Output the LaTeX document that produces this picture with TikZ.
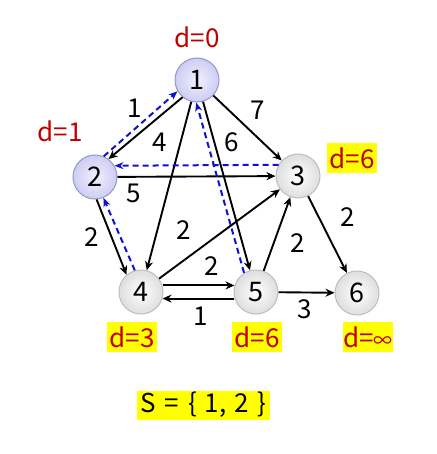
\documentclass[tikz,border=0pt]{standalone}
\usepackage{fontspec}
\setmainfont{Noto Sans CJK KR}
\usetikzlibrary{arrows.meta}
\definecolor{dred}{HTML}{C00000}
\definecolor{hl}{HTML}{FFFF00}
\definecolor{dblue}{HTML}{1010D0}
\tikzset{
  vert/.style={circle, minimum size=44pt, inner sep=0pt, font=\fontsize{27}{27}\selectfont},
  done/.style={vert, shading=radial, inner color={rgb,255:red,240;green,240;blue,255}, outer color={rgb,255:red,205;green,205;blue,242}, draw={rgb,255:red,150;green,150;blue,205}, line width=1pt},
  open/.style={vert, shading=radial, inner color=white, outer color={rgb,255:red,222;green,222;blue,222}, draw={rgb,255:red,190;green,190;blue,190}, line width=1pt},
  wlab/.style={font=\fontsize{26}{26}\selectfont, inner sep=0pt},
  dlab/.style={font=\fontsize{26}{26}\selectfont, text=dred, inner sep=0pt},
  dbox/.style={dlab, fill=hl, minimum width=50pt, minimum height=30pt},
  edge/.style={line width=1.9pt, -{Stealth[length=9pt,width=8pt]}},
  path/.style={line width=2pt, dblue, dash pattern=on 6pt off 4pt, -{Stealth[length=9pt,width=7pt]}}
}
\begin{document}
\begin{tikzpicture}[x=1pt,y=-1pt]
\useasboundingbox (0,0) rectangle (436,454);
\node[done] (n1) at (197,80) {1};
\node[done] (n2) at (95,177) {2};
\node[open] (n3) at (298,176) {3};
\node[open] (n4) at (141,292) {4};
\node[open] (n5) at (256,292) {5};
\node[open] (n6) at (357,293) {6};

\draw[edge] (n1.230) -- (n2.53);
\draw[edge] (n1) -- (n4);
\draw[edge] (n1) -- (n5);
\draw[edge] (n1) -- (n3);
\draw[edge] (n2) -- (n3);
\draw[edge] (n2.274) -- (n4.130);
\draw[edge] (n4) -- (n3);
\draw[edge] (n4.17) -- (n5.163);
\draw[edge] (n5.197) -- (n4.343);
\draw[edge] (n5) -- (n3);
\draw[edge] (n3) -- (n6);
\draw[edge] (n5) -- (n6);

\draw[path] (n2.67) -- (n1.210);
\draw[path] (n5.122) -- (n1.268);
\draw[path] (n3.150) -- (n2.30);
\draw[path] (n4.106) -- (n2.292);

\node[wlab] (w12) at (135,108) {1};
\node[wlab] (w14) at (160,142) {4};
\node[wlab] (w15) at (232,142) {6};
\node[wlab] (w13) at (258,110) {7};
\node[wlab] (w23) at (134,193) {5};
\node[wlab] (w24) at (92,237) {2};
\node[wlab] (w43) at (184,230) {2};
\node[wlab] (w45) at (212,266) {2};
\node[wlab] (w54) at (201,316) {1};
\node[wlab] (w53) at (298,243) {2};
\node[wlab] (w36) at (348,217) {2};
\node[wlab] (w56) at (305,309) {3};

\node[dlab] (d1) at (197,37) {d=0};
\node[dlab] (d2) at (60,131) {d=1};
\node[dbox] (d3) at (352,158) {d=6};
\node[dbox] (d4) at (132,337) {d=3};
\node[dbox] (d5) at (257,337) {d=6};
\node[dbox] (d6) at (368,337) {d={\fontsize{19}{19}\selectfont ∞}};
\node[font=\fontsize{26}{26}\selectfont, fill=hl, minimum width=133pt, minimum height=29pt, inner sep=0pt] (S) at (203,405) {S\hspace{9pt}=\hspace{9pt}\{\hspace{8pt}1,\hspace{8pt}2\hspace{8pt}\}};
\end{tikzpicture}
\end{document}
